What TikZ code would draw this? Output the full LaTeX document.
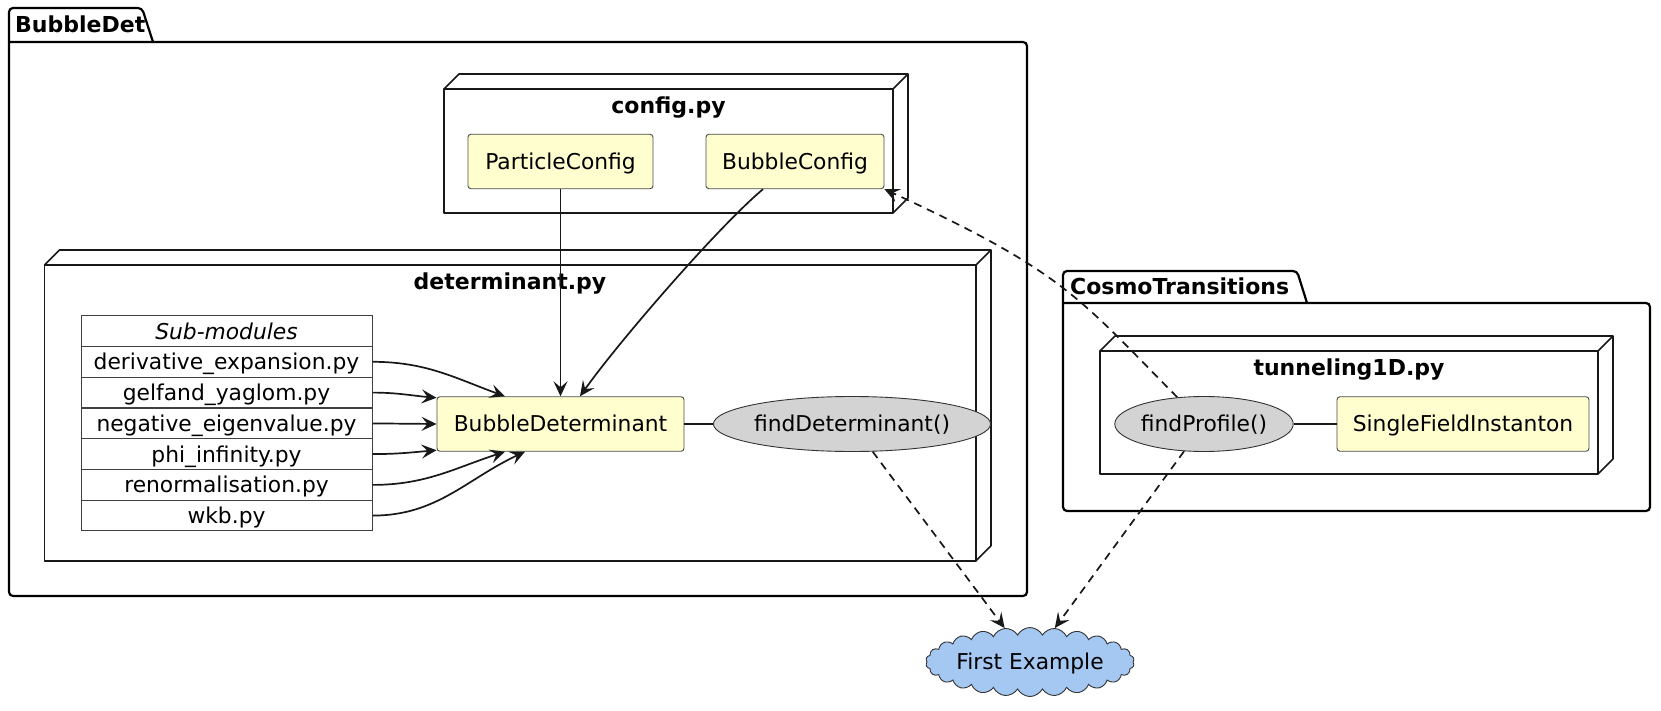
\documentclass[tikz,border=0pt]{standalone}
\usepackage{fontspec}
\setmainfont{DejaVu Sans}
\usetikzlibrary{shapes.geometric,shapes.symbols,arrows.meta}
\definecolor{clsfill}{HTML}{FEFECE}
\definecolor{ovalfill}{HTML}{D3D3D3}
\definecolor{cloudfill}{HTML}{A4C8F2}
\definecolor{ln}{HTML}{181818}
\begin{document}
\begin{tikzpicture}[x=1pt,y=-1pt,
  font=\fontsize{21.8}{26}\selectfont,
  txt/.style={inner sep=0pt, text height=15.9pt, text depth=0pt},
  lbl/.style={txt, font=\fontsize{22}{26}\selectfont\bfseries},
  cls/.style={txt, draw=black!70, line width=0.9pt, fill=clsfill, rounded corners=3pt, minimum height=54.5pt},
  oval/.style={txt, ellipse, draw=black!80, line width=0.9pt, fill=ovalfill, minimum height=55pt},
  row/.style={txt, draw=black!75, line width=1pt, minimum width=291pt, minimum height=30.76pt},
  pkg/.style={draw=black, line width=2.2pt, rounded corners=4pt},
  box3d/.style={draw=ln, line width=1.6pt, line join=round},
  arr/.style={draw=ln, line width=1.7pt, -{Stealth[length=15pt,width=14pt,inset=6pt]}},
  dep/.style={arr, dash pattern=on 8pt off 6pt},
  link/.style={draw=ln, line width=1.4pt},
  cloudnode/.style={txt, cloud, cloud puffs=26, cloud puff arc=125, aspect=2.8, cloud ignores aspect,
     minimum width=194pt, minimum height=69pt, draw=black!80, fill=cloudfill, line width=0.9pt}
]
\fill[white] (0,0) rectangle (1661,711);
\useasboundingbox (0,0) rectangle (1661,711);

% packages
\draw[pkg] (9,42) -- (9,8) -- (142,8) -- (153,42);
\draw[pkg] (9,42) -- (1027,42) -- (1027,596) -- (9,596) -- (9,42);
\node[lbl, anchor=west] (bdl) at (15,25) {BubbleDet};

\draw[pkg] (1063,303) -- (1063,271) -- (1297,271) -- (1307,303);
\draw[pkg] (1063,303) -- (1650,303) -- (1650,511) -- (1063,511) -- (1063,303);
\node[lbl, anchor=west] (ctl) at (1070,287) {CosmoTransitions};

% 3D nodes
\draw[box3d] (444,89) rectangle (893,213);
\draw[box3d] (444,89) -- (459,74) -- (908,74) -- (908,198) -- (893,213);
\draw[box3d] (893,89) -- (908,74);
\node[lbl] (cfgl) at (668.5,105.5) {config.py};

\draw[box3d] (44.5,265) rectangle (976,560.7);
\draw[box3d] (44.5,265) -- (59.5,250) -- (991,250) -- (991,545.7) -- (976,560.7);
\draw[box3d] (976,265) -- (991,250);
\node[lbl] (detl) at (510,282) {determinant.py};

\draw[box3d] (1100,351) rectangle (1598,474);
\draw[box3d] (1100,351) -- (1115,336) -- (1613,336) -- (1613,459) -- (1598,474);
\draw[box3d] (1598,351) -- (1613,336);
\node[lbl] (tunl) at (1349,368) {tunneling1D.py};

% classes
\node[cls, minimum width=185pt] (pc) at (560.5,161.5) {ParticleConfig};
\node[cls, minimum width=178pt] (bc) at (795,161.5) {BubbleConfig};
\node[cls, minimum width=247pt] (bd) at (560.5,424) {BubbleDeterminant};
\node[oval, minimum width=228pt] (fd) at (852,424) {findDeterminant()};
\node[oval, minimum width=158pt] (fp) at (1204,424) {findProfile()};
\node[cls, minimum width=252pt] (sfi) at (1463,424) {SingleFieldInstanton};
\node[cloudnode] (fe) at (1030,662) {First Example};

% table
\node[row] (t0) at (226.5,331.1) {\itshape Sub-modules};
\node[row] (t1) at (226.5,361.8) {derivative\_expansion.py};
\node[row] (t2) at (226.5,392.6) {gelfand\_yaglom.py};
\node[row] (t3) at (226.5,423.4) {negative\_eigenvalue.py};
\node[row] (t4) at (226.5,454.1) {phi\_infinity.py};
\node[row] (t5) at (226.5,484.9) {renormalisation.py};
\node[row] (t6) at (226.5,515.6) {wkb.py};

% connectors
\draw[arr] (pc) -- (bd);
\draw[arr] ([xshift=-32pt]bc.south) .. controls (720,225) and (620,340) .. ([xshift=19.5pt]bd.north);
\draw[arr] (t1.east) to[out=0,in=160] ([xshift=-55.5pt]bd.north);
\draw[arr] (t2.east) to[out=0,in=175] ([yshift=-1.5pt]bd.north west);
\draw[arr] (t3.east) -- (bd.west);
\draw[arr] (t4.east) to[out=0,in=185] ([yshift=1.5pt]bd.south west);
\draw[arr] (t5.east) to[out=0,in=198] ([xshift=-55.5pt]bd.south);
\draw[arr] (t6.east) to[out=0,in=205] ([xshift=-35.5pt]bd.south);

\draw[link] (bd.east) -- (fd.west);
\draw[link] (fp.east) -- (sfi.west);

\draw[dep] (fd) -- (fe);
\draw[dep] (fp) -- (fe);
\draw[dep] (fp.135) .. controls (1078,297) and (1064,272) .. (bc.south east);
\end{tikzpicture}
\end{document}
